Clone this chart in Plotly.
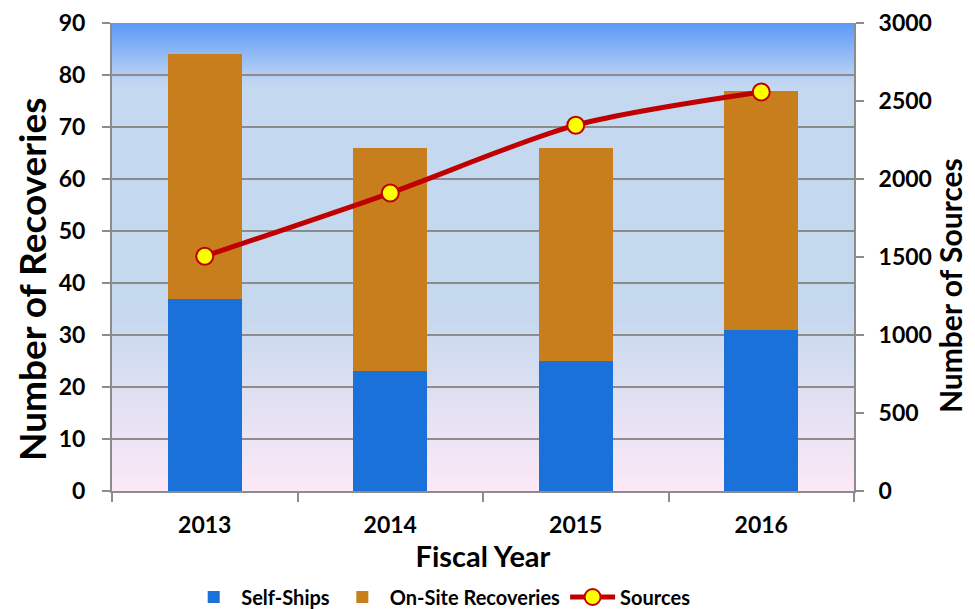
import base64
import plotly.graph_objects as go

years = ["2013", "2014", "2015", "2016"]
self_ships = [37, 23, 25, 31]
on_site = [47, 43, 41, 46]
sources = [1505, 1910, 2345, 2558]

FONT = "Lato"

svg = (
    '<svg xmlns="http://www.w3.org/2000/svg" width="100" height="100" preserveAspectRatio="none">'
    '<defs><linearGradient id="g" x1="0" y1="0" x2="0" y2="1">'
    '<stop offset="0" stop-color="#5a9af8"/>'
    '<stop offset="0.12" stop-color="#bcd3f2"/>'
    '<stop offset="0.14" stop-color="#c4d8f0"/>'
    '<stop offset="0.62" stop-color="#c5d8ee"/>'
    '<stop offset="1" stop-color="#fde9f6"/>'
    '</linearGradient></defs>'
    '<rect width="100" height="100" fill="url(#g)"/></svg>'
)
src = "data:image/svg+xml;base64," + base64.b64encode(svg.encode()).decode()

fig = go.Figure()
fig.add_trace(go.Bar(x=years, y=self_ships, name="Self-Ships",
                     marker=dict(color="#1a71d9", line=dict(width=0)), width=0.4))
fig.add_trace(go.Bar(x=years, y=on_site, name="On-Site Recoveries",
                     marker=dict(color="#c97e1e", line=dict(width=0)), width=0.4))
fig.add_trace(go.Scatter(x=years, y=sources, name="Sources", yaxis="y2",
                         mode="lines+markers",
                         line=dict(color="#c00000", width=5, shape="spline", smoothing=0.8),
                         marker=dict(size=17, color="#ffff00", line=dict(color="#c00000", width=2))))

tickfont = dict(family=FONT, size=23, color="black", weight="bold")
xtitlefont = dict(family=FONT, size=29, color="black", weight="bold")

fig.update_layout(
    width=975, height=609,
    margin=dict(l=112, r=121, t=23, b=118, autoexpand=False),
    barmode="stack",
    paper_bgcolor="white",
    plot_bgcolor="rgba(0,0,0,0)",
    images=[dict(source=src, xref="paper", yref="paper", x=0, y=1, sizex=1, sizey=1,
                 sizing="stretch", layer="below", xanchor="left", yanchor="top")],
    xaxis=dict(type="category", tickson="boundaries", ticks="outside", ticklen=9,
               tickcolor="#8c8c8c", tickwidth=2, showline=True, linecolor="#8c8c8c", linewidth=2,
               tickfont=tickfont, showgrid=False, automargin=False, ticklabelstandoff=12,
               title=dict(text="Fiscal Year", font=xtitlefont, standoff=9)),
    yaxis=dict(range=[0, 90], dtick=10, ticks="outside", ticklen=8, tickcolor="#8c8c8c",
               tickwidth=2, showline=True, linecolor="#8c8c8c", linewidth=2,
               gridcolor="#8c8c8c", gridwidth=2, tickfont=tickfont, zeroline=False,
               automargin=False, ticklabelstandoff=12),
    yaxis2=dict(range=[0, 3000], dtick=500, overlaying="y", side="right", ticks="outside",
                ticklen=8, tickcolor="#8c8c8c", tickwidth=2, showline=True,
                linecolor="#8c8c8c", linewidth=2, showgrid=False, zeroline=False,
                tickfont=tickfont, automargin=False, ticklabelstandoff=10),
    annotations=[
        dict(text="Number of Recoveries", xref="paper", yref="paper", x=-0.1078, y=0.453,
             xanchor="center", yanchor="middle", textangle=-90, showarrow=False,
             font=dict(family=FONT, size=37, color="black", weight="bold")),
        dict(text="Number of Sources", xref="paper", yref="paper", x=1.1294, y=0.438,
             xanchor="center", yanchor="middle", textangle=-90, showarrow=False,
             font=dict(family=FONT, size=30, color="black", weight="bold")),
    ],
    legend=dict(orientation="h", x=0.443, xanchor="center", y=-0.2265, yanchor="middle",
                font=dict(family=FONT, size=20, color="black", weight="bold"),
                traceorder="normal", bgcolor="rgba(0,0,0,0)", itemwidth=45),
    showlegend=True,
)

fig.write_html("out.html")
